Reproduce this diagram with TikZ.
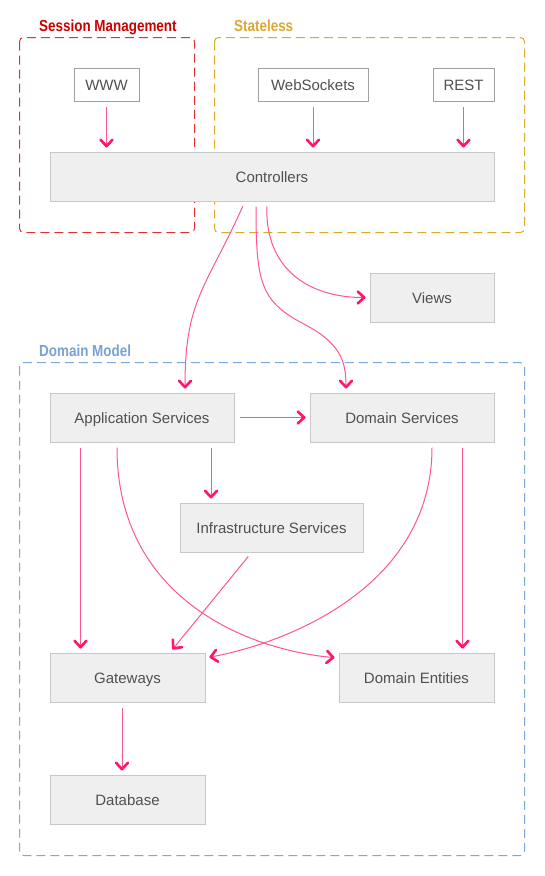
\documentclass[tikz,border=0pt]{standalone}
\usepackage{fontspec}
\setmainfont{Liberation Sans}
\usetikzlibrary{arrows.meta}
\definecolor{linepink}{RGB}{255,85,145}
\definecolor{headpink}{RGB}{255,20,110}
\definecolor{boxfill}{RGB}{239,239,239}
\definecolor{boxline}{RGB}{200,200,200}
\definecolor{wboxline}{RGB}{160,160,160}
\definecolor{txt}{RGB}{80,80,80}
\definecolor{redframe}{RGB}{221,51,51}
\definecolor{redtitle}{RGB}{204,0,0}
\definecolor{goldframe}{RGB}{220,172,40}
\definecolor{goldtitle}{RGB}{220,168,50}
\definecolor{blueframe}{RGB}{125,168,220}
\definecolor{bluetitle}{RGB}{120,162,214}
\tikzset{
  graybox/.style={draw=boxline, fill=boxfill, line width=1pt, inner sep=0pt,
    text=txt, font=\fontsize{15}{18}\selectfont, text height=12pt, text depth=0pt},
  whitebox/.style={draw=wboxline, fill=white, line width=1pt, inner sep=0pt,
    text=txt, font=\fontsize{15}{18}\selectfont, minimum height=33pt,
    text height=12pt, text depth=0pt},
  frame/.style={line width=1pt, dash pattern=on 9pt off 5pt, rounded corners=4pt},
  frametitle/.style={anchor=base west, inner sep=0pt, font=\fontsize{16}{18}\selectfont\bfseries},
  arr/.style={draw=linepink, line width=1pt,
    -{Straight Barb[length=6.5pt,width=12pt,line width=2.6pt,round,color=headpink]},
    shorten <=5pt, shorten >=4pt},
}
\begin{document}
\begin{tikzpicture}[x=1pt,y=-1pt]
\useasboundingbox (0,0) rectangle (545,876);
\fill[white] (0,0) rectangle (545,876);
% frames
\draw[frame, draw=redframe] (19.5,37.5) rectangle (194.5,232.5);
\draw[frame, draw=goldframe] (214.5,37.5) rectangle (524.5,232.5);
\draw[frame, draw=blueframe] (19.5,362.5) rectangle (524.5,855.5);
\node[frametitle, text=redtitle] (t1) at (39,31.8) {\scalebox{0.84}[1]{Session Management}};
\node[frametitle, text=goldtitle] (t2) at (234,31.8) {\scalebox{0.84}[1]{Stateless}};
\node[frametitle, text=bluetitle] (t3) at (39,356.8) {\scalebox{0.84}[1]{Domain Model}};
% nodes
\node[whitebox, minimum width=65pt] (www) at (106.5,84.5) {WWW};
\node[whitebox, minimum width=110pt] (ws) at (313,84.5) {WebSockets};
\node[whitebox, minimum width=61pt] (rest) at (463.5,84.5) {REST};
\node[graybox, minimum width=444pt, minimum height=49pt] (ctrl) at (272,176.5) {Controllers};
\node[graybox, minimum width=124pt, minimum height=49pt] (views) at (432,297.5) {Views};
\node[graybox, minimum width=184pt, minimum height=49pt] (app) at (142,417.5) {Application Services};
\node[graybox, minimum width=184pt, minimum height=49pt] (ds) at (402,417.5) {Domain Services};
\node[graybox, minimum width=183pt, minimum height=49pt] (infra) at (271.5,527.5) {Infrastructure Services};
\node[graybox, minimum width=155pt, minimum height=49pt] (gw) at (127.5,677.5) {Gateways};
\node[graybox, minimum width=155pt, minimum height=49pt] (de) at (416.5,677.5) {Domain Entities};
\node[graybox, minimum width=155pt, minimum height=49pt] (db) at (127.5,799.5) {Database};
% connectors
\draw[arr] (www.south) -- (www.south |- ctrl.north);
\draw[arr] (ws.south) -- (ws.south |- ctrl.north);
\draw[arr] (rest.south) -- (rest.south |- ctrl.north);
\draw[arr] ([xshift=-27pt]ctrl.south) .. controls (205,290) and (185,300) .. ([xshift=43pt]app.north);
\draw[arr] ([xshift=-16pt]ctrl.south) .. controls (256,280) and (260,300) .. (300,322)
  .. controls (340,342) and (346,360) .. ([xshift=-56pt]ds.north);
\draw[arr] ([xshift=-5pt]ctrl.south) .. controls (265,270) and (310,297.5) .. (views.west);
\draw[arr] (app.east) -- (ds.west);
\draw[arr] ([xshift=-61.5pt]app.south) -- ([xshift=-47pt]gw.north);
\draw[arr] ([xshift=69pt]app.south) -- ([xshift=-60.5pt]infra.north);
\draw[arr] ([xshift=-25pt]app.south) .. controls (117,600) and (250,650) .. ([yshift=-5.5pt]de.north west);
\draw[arr] ([xshift=30pt]ds.south) .. controls (432,580) and (300,640) .. ([yshift=-5.5pt]gw.north east);
\draw[arr] ([xshift=60.5pt]ds.south) -- ([xshift=46pt]de.north);
\draw[arr] ([xshift=-20pt]infra.south) -- ([xshift=42.5pt]gw.north);
\draw[arr] ([xshift=-5.5pt]gw.south) -- ([xshift=-5.5pt]db.north);
\end{tikzpicture}
\end{document}
